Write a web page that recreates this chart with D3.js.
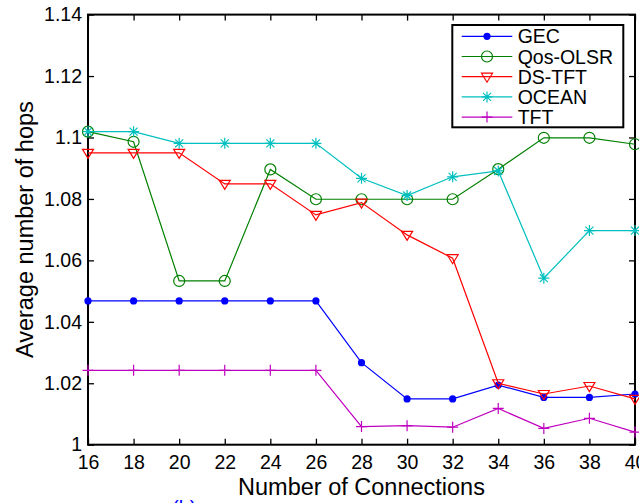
<!DOCTYPE html>
<html>
<head>
<meta charset="utf-8">
<script src="https://cdn.jsdelivr.net/npm/d3@7"></script>
<style>
  html, body { margin: 0; padding: 0; background: #fff; overflow: hidden; }
  svg { display: block; font-family: "Liberation Sans", Arial, sans-serif; }
</style>
</head>
<body>
<svg id="chart"></svg>
<script>
// x values (number of connections)
const connections = [16, 18, 20, 22, 24, 26, 28, 30, 32, 34, 36, 38, 40];

// series values
const gec     = [1.0468, 1.0468, 1.0468, 1.0468, 1.0468, 1.0468, 1.0267, 1.0149, 1.0149, 1.0194, 1.0154, 1.0154, 1.0165];
const qosOlsr = [1.1019, 1.0986, 1.0533, 1.0533, 1.0896, 1.0799, 1.0799, 1.0799, 1.0799, 1.0897, 1.0999, 1.0999, 1.0978];
const dsTft   = [1.0950, 1.0950, 1.0950, 1.0849, 1.0849, 1.0748, 1.0788, 1.0683, 1.0607, 1.0200, 1.0165, 1.0191, 1.0149];
const ocean   = [1.1019, 1.1019, 1.0981, 1.0981, 1.0981, 1.0981, 1.0867, 1.0811, 1.0872, 1.0891, 1.0542, 1.0697, 1.0697];
const tft     = [1.0242, 1.0242, 1.0242, 1.0242, 1.0242, 1.0242, 1.0059, 1.0062, 1.0057, 1.0118, 1.0053, 1.0086, 1.0041];

const yTicks = [1, 1.02, 1.04, 1.06, 1.08, 1.1, 1.12, 1.14];
const xTicks = connections;

const series = [
  { name: "GEC",      values: gec,     color: "#0000ff", marker: "dot" },
  { name: "Qos-OLSR", values: qosOlsr, color: "#008000", marker: "circle" },
  { name: "DS-TFT",   values: dsTft,   color: "#ff0000", marker: "triangle" },
  { name: "OCEAN",    values: ocean,   color: "#00bfbf", marker: "star" },
  { name: "TFT",      values: tft,     color: "#bf00bf", marker: "plus" }
];

const width = 639;
const height = 503;
const margin = { top: 14.6, right: 4, bottom: 58.3, left: 88 };

const svg = d3.select("#chart")
  .attr("width", width)
  .attr("height", height);

const x = d3.scaleLinear()
  .domain([16, 40])
  .range([margin.left, width - margin.right]);

const y = d3.scaleLinear()
  .domain([1, 1.14])
  .range([height - margin.bottom, margin.top]);

const fmt = d => String(+d.toFixed(2));

// inward ticks on all four sides
const tickLen = 6;
svg.append("g")
  .attr("transform", `translate(0,${y(1)})`)
  .call(d3.axisBottom(x).tickValues(xTicks).tickSizeInner(-tickLen).tickSizeOuter(0).tickPadding(10).tickFormat(fmt))
  .call(g => g.select(".domain").remove())
  .call(g => g.selectAll("text").attr("font-size", 19.5).attr("fill", "#000").attr("font-family", "Liberation Sans, Arial, sans-serif"));

svg.append("g")
  .attr("transform", `translate(0,${y(1.14)})`)
  .call(d3.axisTop(x).tickValues(xTicks).tickSizeInner(-tickLen).tickSizeOuter(0).tickFormat(""))
  .call(g => g.select(".domain").remove());

svg.append("g")
  .attr("transform", `translate(${x(16)},0)`)
  .call(d3.axisLeft(y).tickValues(yTicks).tickSizeInner(-tickLen).tickSizeOuter(0).tickPadding(6).tickFormat(fmt))
  .call(g => g.select(".domain").remove())
  .call(g => g.selectAll("text").attr("font-size", 19.5).attr("fill", "#000").attr("font-family", "Liberation Sans, Arial, sans-serif"));

svg.append("g")
  .attr("transform", `translate(${x(40)},0)`)
  .call(d3.axisRight(y).tickValues(yTicks).tickSizeInner(-tickLen).tickSizeOuter(0).tickFormat(""))
  .call(g => g.select(".domain").remove());

svg.selectAll(".tick line").attr("stroke", "#000").attr("stroke-width", 1.3);

// frame
svg.append("rect")
  .attr("x", x(16)).attr("y", y(1.14))
  .attr("width", x(40) - x(16)).attr("height", y(1) - y(1.14))
  .attr("fill", "none").attr("stroke", "#000").attr("stroke-width", 2);

// axis titles
svg.append("text")
  .attr("x", (x(16) + x(40)) / 2)
  .attr("y", 495)
  .attr("text-anchor", "middle")
  .attr("font-size", 23.5)
  .text("Number of Connections");

svg.append("text")
  .attr("transform", `translate(33,${(y(1) + y(1.14)) / 2}) rotate(-90)`)
  .attr("text-anchor", "middle")
  .attr("font-size", 23.5)
  .text("Average number of hops");

// partially visible caption under the figure
svg.append("text")
  .attr("x", 172).attr("y", 515)
  .attr("font-size", 20)
  .attr("fill", "#0000ff")
  .text("(b)");

// marker drawing
function drawMarker(g, type, color) {
  if (type === "dot") {
    g.append("circle").attr("r", 3.6).attr("fill", color);
  } else if (type === "circle") {
    g.append("circle").attr("r", 5.5).attr("fill", "none").attr("stroke", color).attr("stroke-width", 1.2);
  } else if (type === "triangle") {
    g.append("path").attr("d", "M-5.5,-3.5L5.5,-3.5L0,5.5Z")
      .attr("fill", "none").attr("stroke", color).attr("stroke-width", 1.2);
  } else if (type === "star") {
    g.append("path").attr("d", "M0,-5.5V5.5M-5.5,0H5.5M-4,-4L4,4M-4,4L4,-4")
      .attr("stroke", color).attr("stroke-width", 1.2);
  } else if (type === "plus") {
    g.append("path").attr("d", "M0,-5.5V5.5M-5.5,0H5.5")
      .attr("stroke", color).attr("stroke-width", 1.2);
  }
}

const line = d3.line()
  .x(d => x(d[0]))
  .y(d => y(d[1]));

series.forEach(s => {
  const pts = connections.map((c, i) => [c, s.values[i]]);
  const g = svg.append("g");
  g.append("path")
    .datum(pts)
    .attr("d", line)
    .attr("fill", "none")
    .attr("stroke", s.color)
    .attr("stroke-width", 1.2);
  pts.forEach(p => {
    const m = g.append("g").attr("transform", `translate(${x(p[0])},${y(p[1])})`);
    drawMarker(m, s.marker, s.color);
  });
});

// legend
const legend = svg.append("g");
legend.append("rect")
  .attr("x", 452.3).attr("y", 25)
  .attr("width", 171).attr("height", 102.3)
  .attr("fill", "#fff").attr("stroke", "#000").attr("stroke-width", 2);

series.forEach((s, i) => {
  const ly = 36.3 + i * 20.2;
  legend.append("line")
    .attr("x1", 461.7).attr("x2", 512.3)
    .attr("y1", ly).attr("y2", ly)
    .attr("stroke", s.color).attr("stroke-width", 1.2);
  const m = legend.append("g").attr("transform", `translate(487,${ly})`);
  drawMarker(m, s.marker, s.color);
  legend.append("text")
    .attr("x", 517.7).attr("y", ly + 7)
    .attr("font-size", 19.5)
    .text(s.name);
});
</script>
</body>
</html>
